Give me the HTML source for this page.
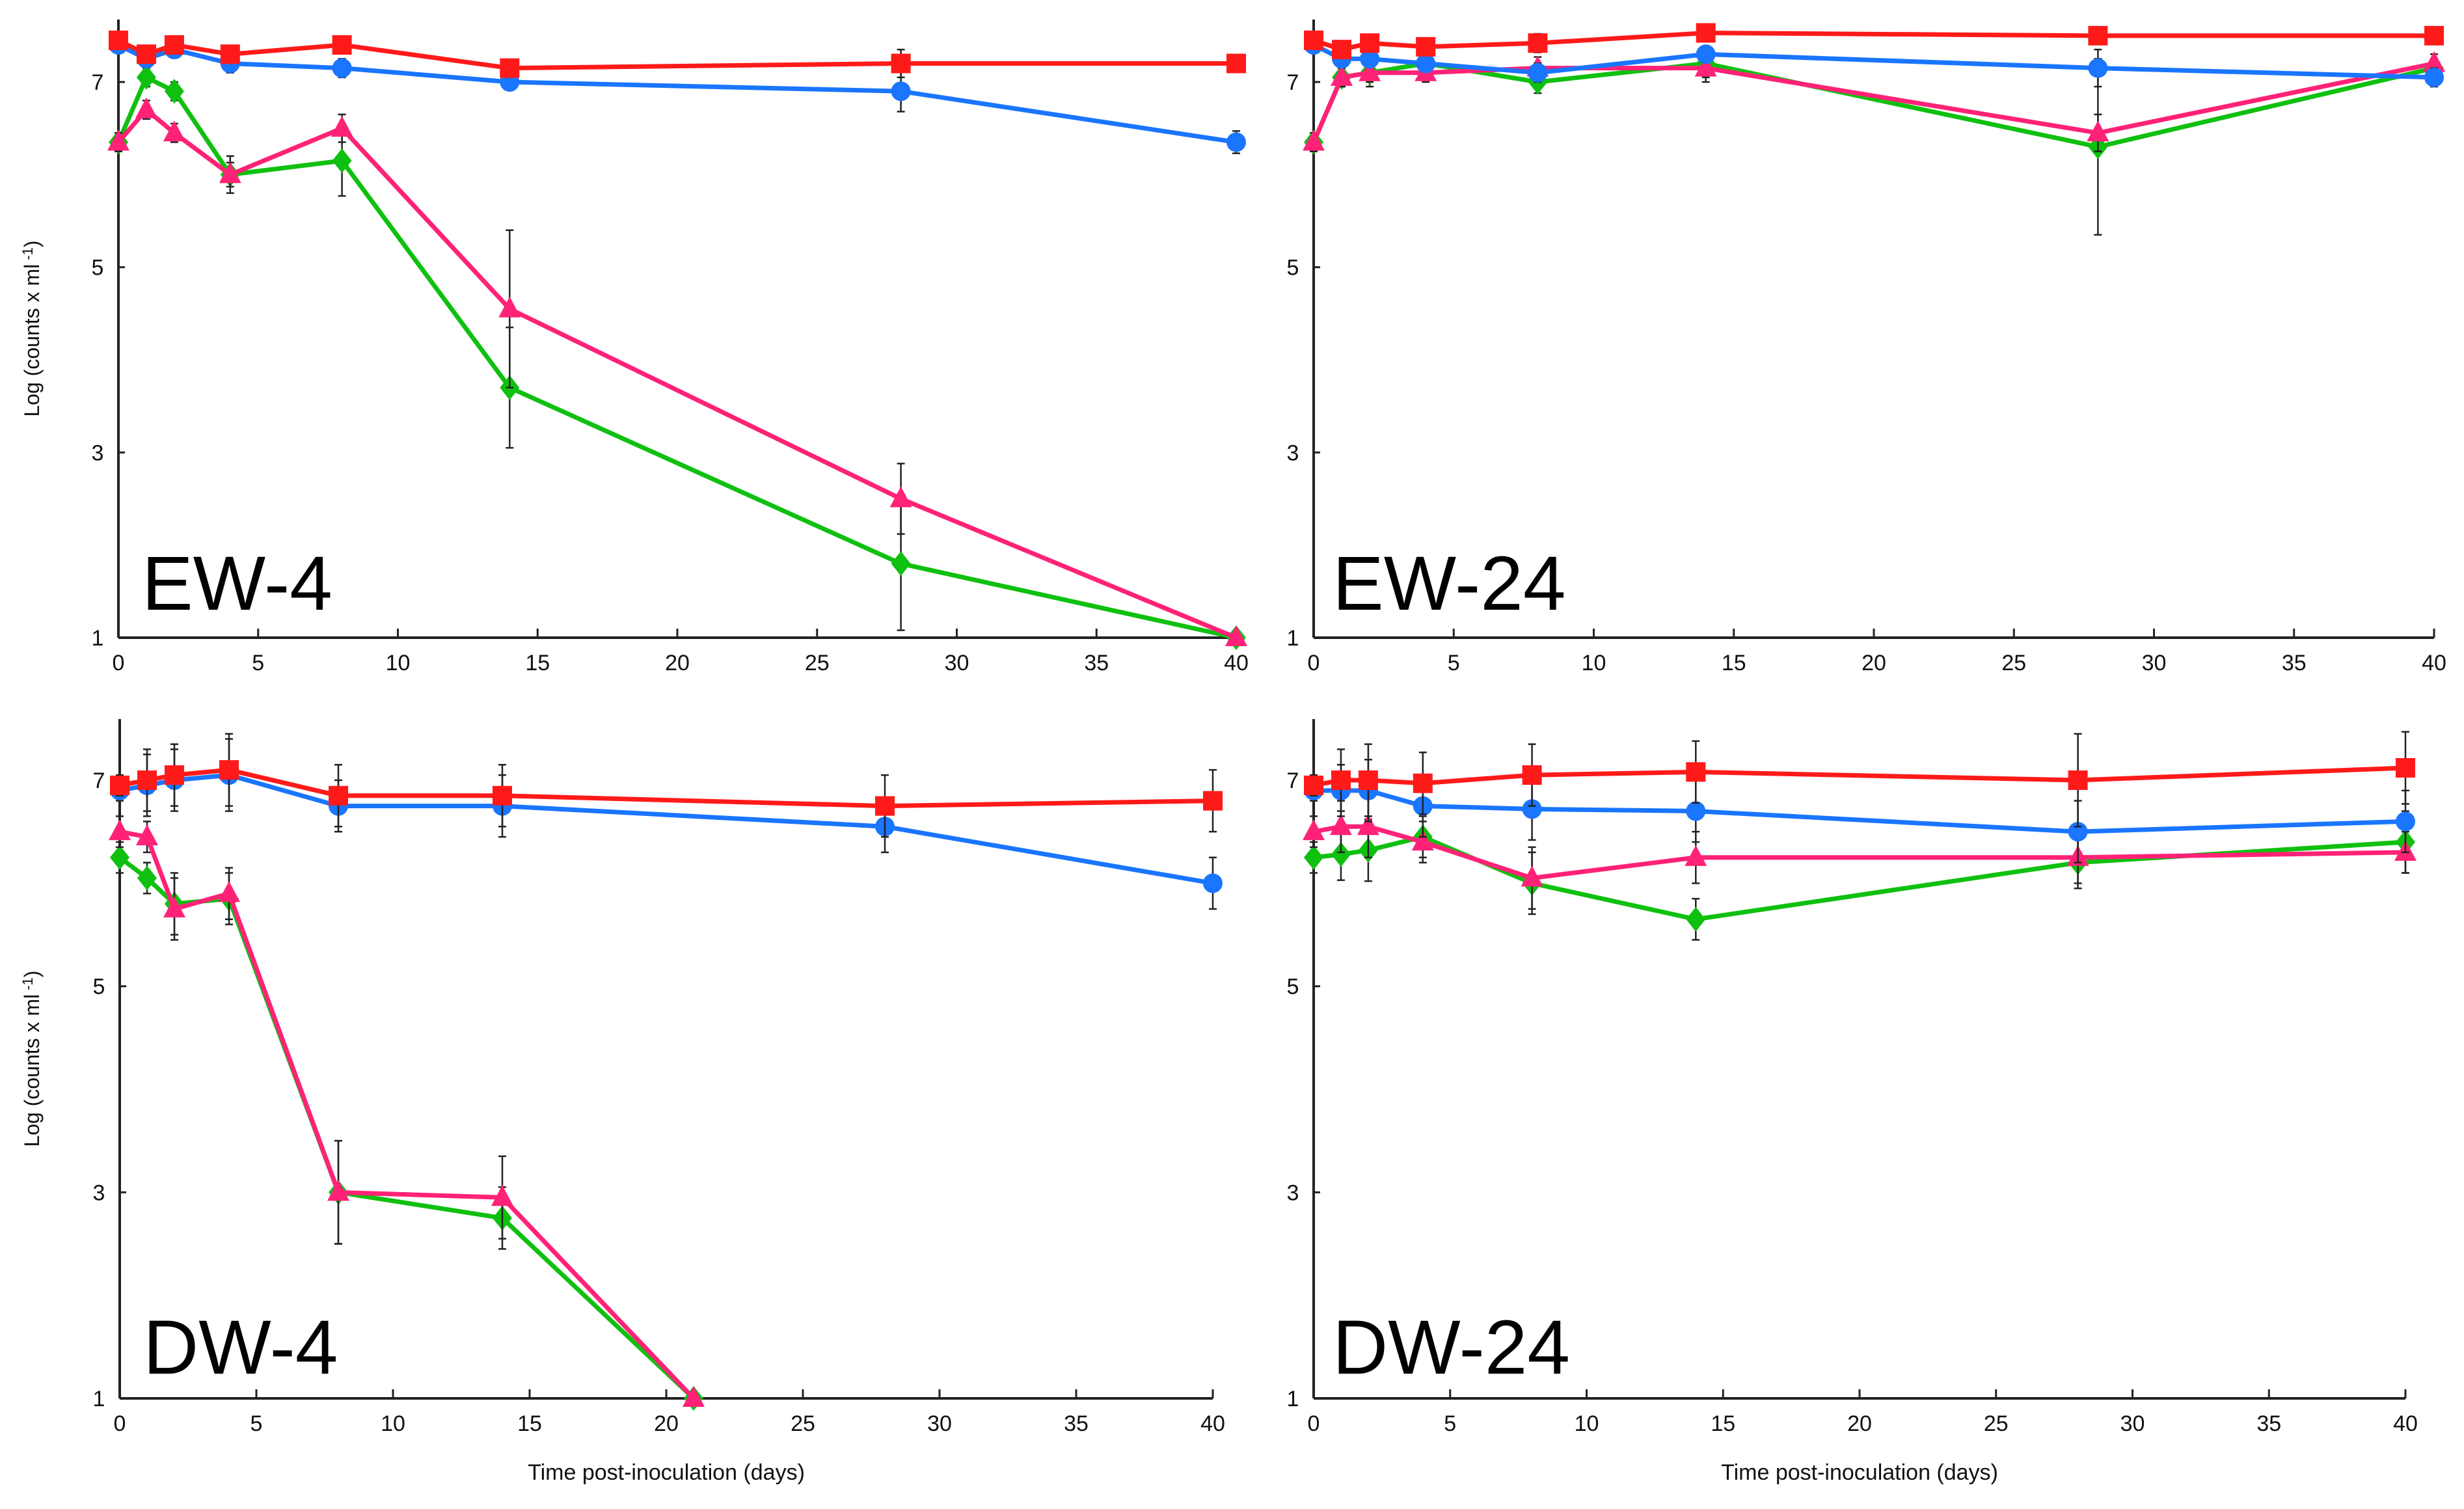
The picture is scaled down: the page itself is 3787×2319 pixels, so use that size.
<!DOCTYPE html>
<html><head><meta charset="utf-8"><style>
html,body{margin:0;padding:0;background:#fff;}
svg{display:block;font-family:"Liberation Sans",sans-serif;}
</style></head>
<body>
<svg id="chart" width="3787" height="2319" viewBox="0 0 3787 2319" xmlns="http://www.w3.org/2000/svg"></svg>
<script>
const xTicks=[0,5,10,15,20,25,30,35,40];
const yTicks=[1,3,5,7];
const seriesNames=['red','blue','green','pink'];
const seriesColors=['#ff1a1a','#1a75ff','#10c010','#ff2277'];
const daysA=[0,1,2,4,8,14,28,40];
const daysDW4=[0,1,2,4,8,14,21];
// EW-4
const ew4Red=[7.45,7.3,7.4,7.3,7.4,7.15,7.2,7.2];
const ew4Blue=[7.4,7.25,7.35,7.2,7.15,7.0,6.9,6.35];
const ew4Green=[6.35,7.05,6.9,6.0,6.15,3.7,1.8,1.0];
const ew4Pink=[6.35,6.7,6.45,6.0,6.5,4.55,2.5,1.0];
const ew4RedErr=[0.05,0.05,0.05,0.08,0.08,0.05,0.15,0.05];
const ew4BlueErr=[0.05,0.05,0.05,0.1,0.1,0.06,0.22,0.12];
const ew4GreenErr=[0.1,0.1,0.1,0.2,0.38,0.65,0.72,0.02];
const ew4PinkErr=[0.1,0.1,0.1,0.13,0.15,0.85,0.38,0.02];
// EW-24
const ew24Red=[7.45,7.35,7.42,7.38,7.42,7.53,7.5,7.5];
const ew24Blue=[7.4,7.25,7.25,7.2,7.1,7.3,7.15,7.05];
const ew24Green=[6.35,7.05,7.1,7.2,7.0,7.2,6.3,7.15];
const ew24Pink=[6.35,7.05,7.1,7.1,7.15,7.15,6.45,7.2];
const ew24RedErr=[0.05,0.05,0.05,0.05,0.1,0.05,0.05,0.05];
const ew24BlueErr=[0.05,0.05,0.05,0.05,0.1,0.05,0.2,0.1];
const ew24GreenErr=[0.1,0.1,0.15,0.1,0.12,0.15,0.95,0.1];
const ew24PinkErr=[0.1,0.1,0.1,0.1,0.12,0.15,0.2,0.1];
// DW-4
const dw4Red=[6.95,7.0,7.05,7.1,6.85,6.85,6.75,6.8];
const dw4Blue=[6.9,6.95,7.0,7.05,6.75,6.75,6.55,6.0];
const dw4Green=[6.25,6.05,5.8,5.85,3.0,2.75,1.0];
const dw4Pink=[6.5,6.45,5.75,5.9,3.0,2.95,1.0];
const dw4RedErr=[0.1,0.3,0.3,0.35,0.3,0.3,0.3,0.3];
const dw4BlueErr=[0.1,0.3,0.3,0.35,0.25,0.3,0.25,0.25];
const dw4GreenErr=[0.15,0.15,0.3,0.25,0.5,0.3,0.02];
const dw4PinkErr=[0.15,0.15,0.3,0.25,0.5,0.4,0.02];
// DW-24
const dw24Red=[6.95,7.0,7.0,6.97,7.05,7.08,7.0,7.12];
const dw24Blue=[6.9,6.9,6.9,6.75,6.72,6.7,6.5,6.6];
const dw24Green=[6.25,6.28,6.32,6.45,6.0,5.65,6.2,6.4];
const dw24Pink=[6.5,6.55,6.55,6.4,6.05,6.25,6.25,6.3];
const dw24RedErr=[0.1,0.3,0.35,0.3,0.3,0.3,0.45,0.35];
const dw24BlueErr=[0.1,0.25,0.3,0.3,0.3,0.3,0.3,0.3];
const dw24GreenErr=[0.15,0.25,0.3,0.2,0.3,0.2,0.25,0.3];
const dw24PinkErr=[0.15,0.25,0.3,0.2,0.3,0.25,0.25,0.2];

const NS='http://www.w3.org/2000/svg';
const svg=document.getElementById('chart');
function mk(tag,attrs,parent){const e=document.createElementNS(NS,tag);for(const k in attrs)e.setAttribute(k,attrs[k]);(parent||svg).appendChild(e);return e;}

const panels=[
 {id:'ew-4',label:'EW-4',x0:182,x1:1900,y1v:980,y7v:126,top:30,days:[daysA,daysA,daysA,daysA],data:[ew4Red,ew4Blue,ew4Green,ew4Pink],err:[ew4RedErr,ew4BlueErr,ew4GreenErr,ew4PinkErr],xt:false,yt:true,lx:218,ly:937},
 {id:'ew-24',label:'EW-24',x0:2019,x1:3741,y1v:980,y7v:126,top:30,days:[daysA,daysA,daysA,daysA],data:[ew24Red,ew24Blue,ew24Green,ew24Pink],err:[ew24RedErr,ew24BlueErr,ew24GreenErr,ew24PinkErr],xt:false,yt:false,lx:2048,ly:937},
 {id:'dw-4',label:'DW-4',x0:184,x1:1864,y1v:2149,y7v:1199,top:1105,days:[daysA,daysA,daysDW4,daysDW4],data:[dw4Red,dw4Blue,dw4Green,dw4Pink],err:[dw4RedErr,dw4BlueErr,dw4GreenErr,dw4PinkErr],xt:true,yt:true,lx:220,ly:2111},
 {id:'dw-24',label:'DW-24',x0:2019,x1:3697,y1v:2149,y7v:1199,top:1105,days:[daysA,daysA,daysA,daysA],data:[dw24Red,dw24Blue,dw24Green,dw24Pink],err:[dw24RedErr,dw24BlueErr,dw24GreenErr,dw24PinkErr],xt:true,yt:false,lx:2048,ly:2111}
];

function marker(g,kind,cx,cy,col){
  let e;
  if(kind==='red'){e=mk('rect',{x:cx-15,y:cy-15,width:30,height:30,fill:col},g);}
  else if(kind==='blue'){e=mk('circle',{cx:cx,cy:cy,r:15,fill:col},g);}
  else if(kind==='green'){e=mk('polygon',{points:`${cx},${cy-19} ${cx+15},${cy} ${cx},${cy+19} ${cx-15},${cy}`,fill:col},g);}
  else {e=mk('polygon',{points:`${cx},${cy-19} ${cx+17},${cy+13} ${cx-17},${cy+13}`,fill:col},g);}
  
  
}

panels.forEach(p=>{
  const g=mk('g',{});
  
  
  const X=d=>p.x0+(p.x1-p.x0)*d/40;
  const Y=v=>p.y1v-(p.y1v-p.y7v)*(v-1)/6;
  // axes
  const ax=mk('line',{x1:p.x0,y1:p.y1v,x2:p.x1,y2:p.y1v,stroke:'#222','stroke-width':4},g);
  
  const ay=mk('line',{x1:p.x0,y1:p.y1v,x2:p.x0,y2:p.top,stroke:'#222','stroke-width':4},g);
  
  xTicks.forEach(t=>{
    const tk=mk('line',{x1:X(t),y1:p.y1v,x2:X(t),y2:p.y1v-14,stroke:'#222','stroke-width':3},g);
    
    const tl=mk('text',{x:X(t),y:p.y1v+50,'font-size':34,'text-anchor':'middle',fill:'#111'},g);
    tl.textContent=t;
    
  });
  yTicks.forEach(t=>{
    const tk=mk('line',{x1:p.x0,y1:Y(t),x2:p.x0+10,y2:Y(t),stroke:'#222','stroke-width':3},g);
    
    const tl=mk('text',{x:p.x0-32,y:Y(t)+12,'font-size':34,'text-anchor':'middle',fill:'#111'},g);
    tl.textContent=t;
    
  });
  if(p.yt){
    const cy=(p.y1v+p.top)/2;
    const t=mk('text',{x:0,y:0,'font-size':32,'text-anchor':'middle',fill:'#111',transform:`translate(60,${cy}) rotate(-90)`},g);
    t.innerHTML='Log (counts x ml<tspan dy="-10" font-size="22"> -1</tspan><tspan dy="10">)</tspan>';
    
  }
  if(p.xt){
    const t=mk('text',{x:(p.x0+p.x1)/2,y:2274,'font-size':34,'text-anchor':'middle',fill:'#111'},g);
    t.textContent='Time post-inoculation (days)';
    
  }
  const lab=mk('text',{x:p.lx,y:p.ly,'font-size':118,fill:'#000'},g);
  lab.textContent=p.label;
  
  // series: draw error bars, lines, markers; order so red/blue on top
  const order=[2,3,1,0];
  order.forEach(si=>{
    const d=p.data[si],e=p.err[si],days=p.days[si],col=seriesColors[si],nm=seriesNames[si];
    const sg=mk('g',{},g);
    
    d.forEach((v,i)=>{
      const x=X(days[i]);
      const eb=mk('path',{d:`M${x},${Y(v+e[i])}V${Y(v-e[i])}M${x-6},${Y(v+e[i])}H${x+6}M${x-6},${Y(v-e[i])}H${x+6}`,stroke:'#222','stroke-width':2.5,fill:'none'},sg);
      
    });
    const pts=d.map((v,i)=>X(days[i])+','+Y(v)).join(' ');
    const ln=mk('polyline',{points:pts,fill:'none',stroke:col,'stroke-width':7,'stroke-linejoin':'round'},sg);
    
    d.forEach((v,i)=>marker(sg,nm,X(days[i]),Y(v),col));
  });
});
</script>
</body></html>
